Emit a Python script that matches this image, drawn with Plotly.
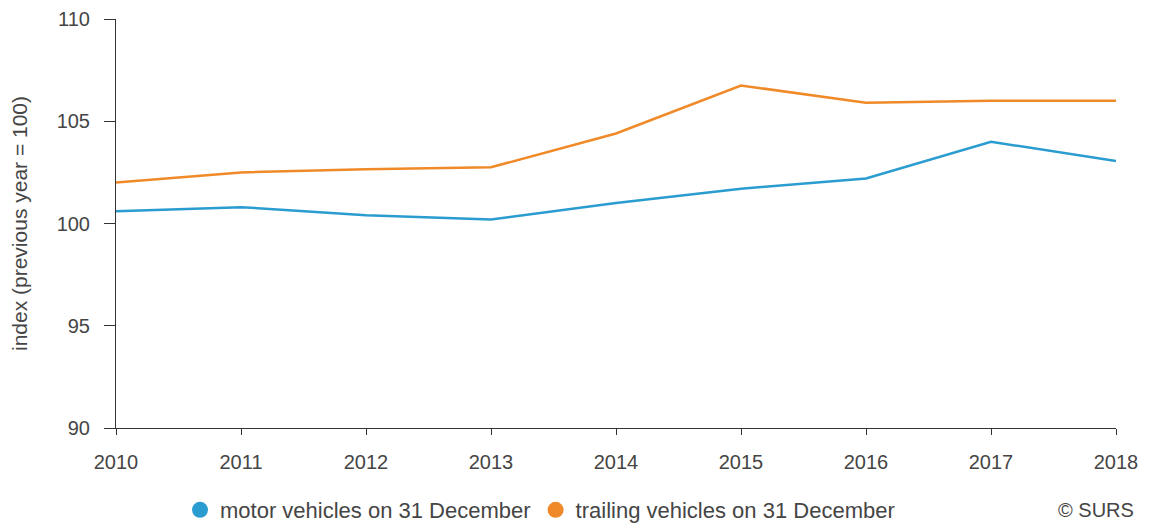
import plotly.graph_objects as go

years = [2010, 2011, 2012, 2013, 2014, 2015, 2016, 2017, 2018]
motor = [100.6, 100.8, 100.4, 100.2, 101.0, 101.7, 102.2, 104.0, 103.05]
trailing = [102.0, 102.5, 102.65, 102.75, 104.4, 106.75, 105.9, 106.0, 106.0]
series_names = ["motor vehicles on 31 December", "trailing vehicles on 31 December"]
colors = ["#2a9ccf", "#f08a28"]
y_title = "index (previous year = 100)"
credit = "© SURS"

font_family = "Liberation Sans, Arial, sans-serif"
text_color = "#454545"
tick_fs = 20
label_fs = 21
legend_fs = 22

W, H = 1154, 518  # page body adds an 8px offset

fig = go.Figure()
for vals, name, col in zip([motor, trailing], series_names, colors):
    fig.add_trace(go.Scatter(x=years, y=vals, mode="lines", name=name,
                             line=dict(color=col, width=2.5), showlegend=False))
    fig.add_trace(go.Scatter(x=[None], y=[None], mode="markers", name=name,
                             marker=dict(color=col, size=19, symbol="circle"),
                             showlegend=True))

fig.update_layout(
    template="none",
    width=W, height=H,
    margin=dict(l=108, r=46, t=11, b=98, pad=0),
    plot_bgcolor="white", paper_bgcolor="white",
    font=dict(family=font_family, size=label_fs, color=text_color),
    xaxis=dict(range=[2010, 2018], tickmode="array", tickvals=years,
               ticktext=[str(y) for y in years], automargin=False,
               showline=True, linecolor="#333333", linewidth=1,
               ticks="outside", ticklen=6, tickcolor="#333333", ticklabelstandoff=10,
               showgrid=False, zeroline=False, tickfont=dict(size=tick_fs)),
    yaxis=dict(range=[90, 110], dtick=5, showline=True, linecolor="#333333",
               linewidth=1, ticks="outside", ticklen=11, tickcolor="#333333",
               ticklabelstandoff=10,
               showgrid=False, zeroline=False, tickfont=dict(size=tick_fs), automargin=False,
               title=dict(text=y_title, font=dict(size=label_fs), standoff=24)),
    legend=dict(orientation="h", x=0.064, y=16 / H, xref="paper", yref="container",
                xanchor="left", yanchor="middle",
                font=dict(size=legend_fs), itemwidth=30, traceorder="normal"),
    annotations=[dict(text=credit, xref="paper", yref="paper", x=1.02, y=-0.2,
                      xanchor="right", yanchor="middle", showarrow=False,
                      font=dict(size=20, color=text_color))],
)

fig.write_html("out.html")
